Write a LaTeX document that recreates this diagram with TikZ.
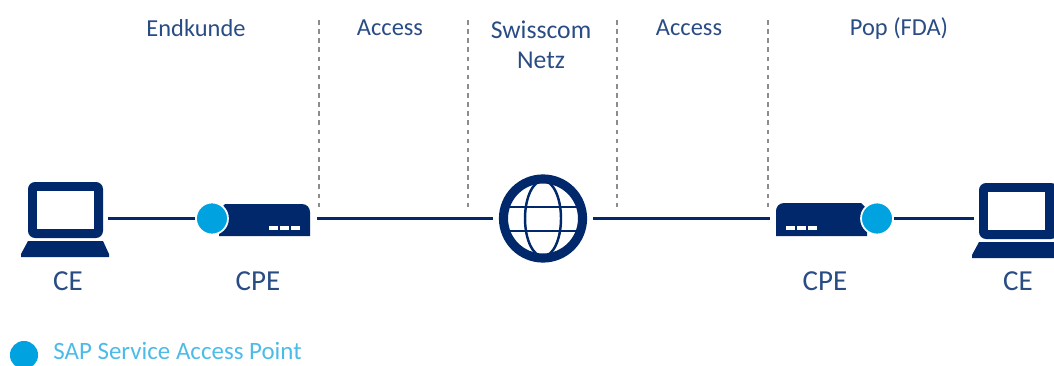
\documentclass[tikz,border=0pt]{standalone}
\usepackage{fontspec}
\usetikzlibrary{positioning}
\setmainfont{Carlito}
\definecolor{navy}{HTML}{00286B}
\definecolor{labelblue}{HTML}{2A4C85}
\definecolor{sapblue}{HTML}{00A3E0}
\definecolor{sapline}{HTML}{4DBBE8}
\definecolor{sepgray}{HTML}{8C8C8C}
\tikzset{
    lbl/.style={text=labelblue,inner sep=0pt,font=\fontsize{13.9}{13.9}\selectfont},
    netlbl/.style={lbl,font=\fontsize{14.6}{14.6}\selectfont},
    devlbl/.style={lbl,font=\fontsize{16.5}{16.5}\selectfont},
    dev/.style={inner sep=0pt,minimum height=20pt},
    sap/.style={circle,fill=sapblue,draw=white,line width=1pt,inner sep=0pt,minimum size=18.2pt},
    wire/.style={navy,line width=1.6pt},
    sep/.style={sepgray,line width=1.2pt,dash pattern=on 2.6pt off 2.6pt}
}
\begin{document}
\begin{tikzpicture}[x=0.02cm,y=0.02cm]
    \useasboundingbox (0,-365) rectangle (1054,0);
    \clip (0,-365) rectangle (1054,0);
    % separators
    \coordinate (s1a) at (319,-20);
    \coordinate (s1b) at (319,-207);
    \coordinate (s2a) at (468,-20);
    \coordinate (s2b) at (468,-207);
    \coordinate (s3a) at (617,-20);
    \coordinate (s3b) at (617,-207);
    \coordinate (s4a) at (768,-20);
    \coordinate (s4b) at (768,-207);
    \draw [sep] (s1a) -- (s1b);
    \draw [sep] (s2a) -- (s2b);
    \draw [sep] (s3a) -- (s3b);
    \draw [sep] (s4a) -- (s4b);
    % headings
    \node [lbl] (endkunde) at (196,-28) {Endkunde};
    \node [lbl] (access1) at (390,-28) {Access};
    \node [netlbl] (swisscom) at (541,-30) {Swisscom};
    \node [netlbl] (netz) at (541,-60) {Netz};
    \node [lbl] (access2) at (689,-28) {Access};
    \node [lbl] (pop) at (899,-29) {Pop (FDA)};
    % left laptop
    \node [dev,minimum width=50pt] (ce1) at (64,-218.5) {};
    \fill [navy,rounded corners=4pt] (28,-238) rectangle (103,-182);
    \fill [white] (37,-229) rectangle (94,-191);
    \fill [navy] (28,-241) -- (103,-241) -- (109,-254) -- (109,-257) -- (21,-257) -- (21,-254) -- cycle;
    % left router
    \node [dev,minimum width=55.2pt] (cpe1) at (268.5,-218.5) {};
    \fill [navy] (219,-236) -- (219,-210) -- (225,-204) -- (302,-204) .. controls (307,-204) and (310,-208) .. (310,-212) -- (310,-236) -- cycle;
    \fill [white] (269,-226) rectangle (278,-230);
    \fill [white] (280,-226) rectangle (289,-230);
    \fill [white] (291,-226) rectangle (300,-230);
    \node [sap] (sap1) at (212,-218.5) {};
    % globe
    \node [circle,draw=navy,line width=5.2pt,inner sep=0pt,minimum size=45pt] (globe) at (543,-218.5) {};
    \node [dev,circle,minimum size=57pt] (net) at (543,-218.5) {};
    \draw [navy,line width=1.4pt] (543,-218.5) ellipse (18 and 38);
    \draw [navy,line width=1.4pt] (509,-207) -- (577,-207);
    \draw [navy,line width=1.4pt] (509,-231) -- (577,-231);
    % right router
    \node [dev,minimum width=55.2pt] (cpe2) at (818.5,-218.5) {};
    \fill [navy] (867,-236) -- (867,-209) -- (861,-203) -- (784,-203) .. controls (779,-203) and (776,-207) .. (776,-211) -- (776,-236) -- cycle;
    \fill [white] (786,-226) rectangle (795,-230);
    \fill [white] (797,-226) rectangle (806,-230);
    \fill [white] (808,-226) rectangle (817,-230);
    \node [sap] (sap2) at (877,-218.5) {};
    % right laptop
    \node [dev,minimum width=50pt] (ce2) at (1018,-218.5) {};
    \fill [navy,rounded corners=4pt] (979,-239) rectangle (1058,-183);
    \fill [white] (988,-230) rectangle (1045,-192);
    \fill [navy] (979,-242) -- (1054,-242) -- (1054,-258) -- (972,-258) -- (972,-255) -- cycle;
    % links
    \draw [wire] (ce1) -- (sap1);
    \draw [wire] (cpe1) -- (net);
    \draw [wire] (net) -- (cpe2);
    \draw [wire] (sap2) -- (ce2);
    % device labels
    \node [devlbl] (celbl1) at (68,-281) {CE};
    \node [devlbl] (cpelbl1) at (258,-281) {CPE};
    \node [devlbl] (cpelbl2) at (825,-281) {CPE};
    \node [devlbl] (celbl2) at (1018,-281) {CE};
    % legend
    \node [circle,fill=sapblue,inner sep=0pt,minimum size=16pt] (key) at (24,-355) {};
    \node [lbl,text=sapline,font=\fontsize{14.2}{14.2}\selectfont,anchor=west] (keylbl) at (53,-351) {SAP Service Access Point};
\end{tikzpicture}
\end{document}
